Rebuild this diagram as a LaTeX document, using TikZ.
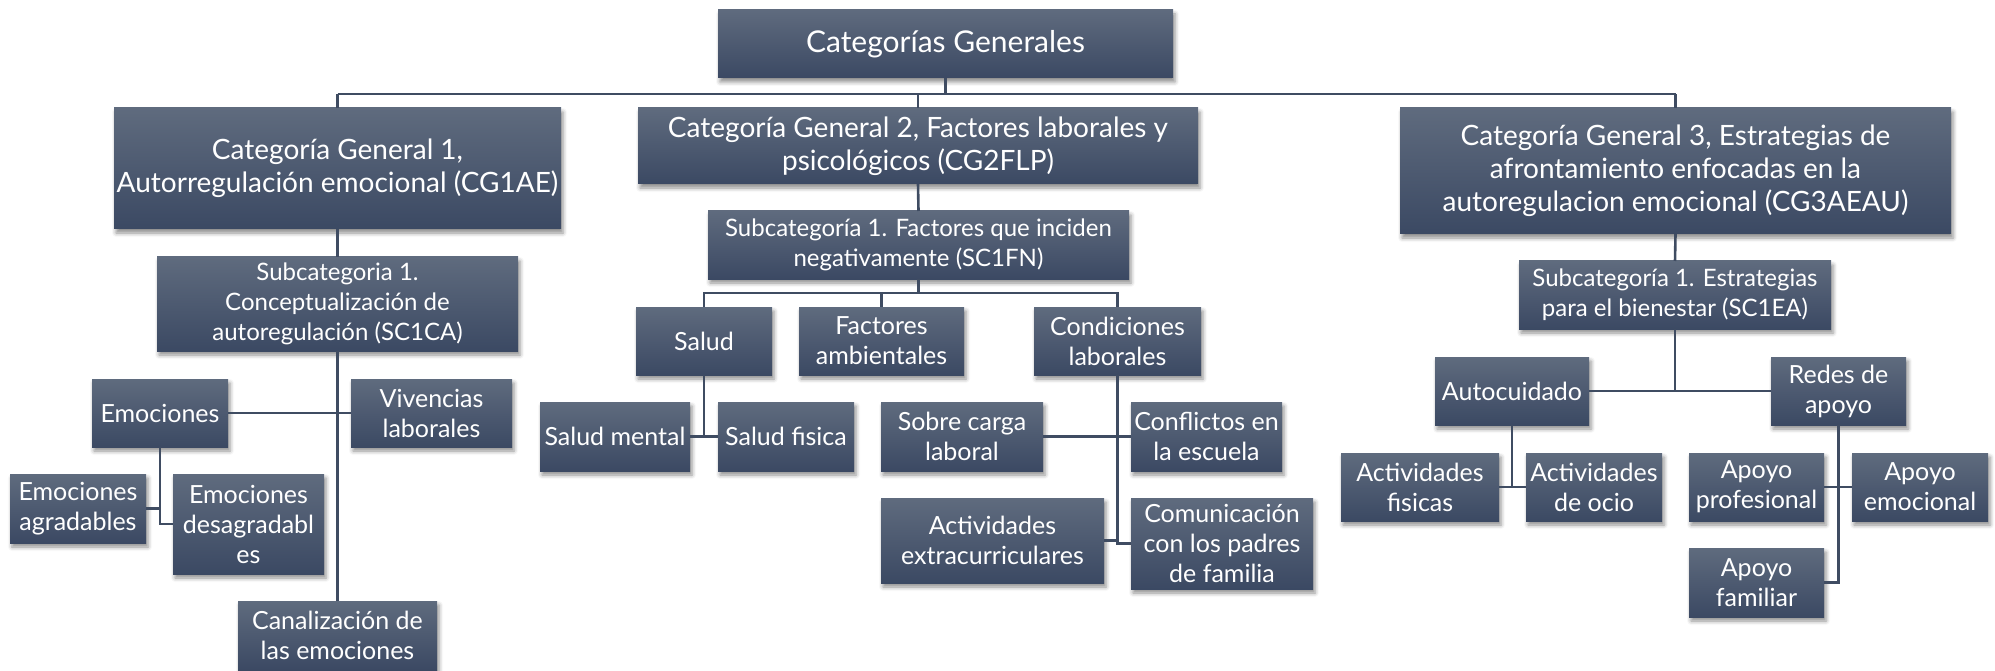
\documentclass[tikz,border=0pt]{standalone}
\usepackage{fontspec}
\setmainfont{Lato}
\usetikzlibrary{shadows.blur}
\definecolor{boxtop}{HTML}{5F6B7E}
\definecolor{boxbot}{HTML}{3B4963}
\definecolor{linec}{HTML}{3F4C62}
\tikzset{
  box/.style={rectangle, inner sep=2pt, outer sep=0pt, align=center, text=white,
    top color=boxtop, bottom color=boxbot, draw=none,
    blur shadow={shadow xshift=2pt, shadow yshift=-4pt, shadow blur radius=4pt, shadow opacity=45},
    font=\fontsize{25}{30}\selectfont},
  bigtxt/.style={font=\fontsize{28}{33}\selectfont},
  roottxt/.style={font=\fontsize{30}{34}\selectfont},
  subtxt/.style={font=\fontsize{24}{30}\selectfont},
  conn/.style={draw=linec, line width=2.6pt}
}
\newcommand\mkbox[7][]{\node[box,#1,minimum width={(#5-#3)*1pt},minimum height={(#6-#4)*1pt}] (#2) at ({(#3+#5)/2},{(#4+#6)/2}) {#7};}
\begin{document}
\begin{tikzpicture}[x=1pt,y=-1pt]
\useasboundingbox (0,0) rectangle (1995,671);
% level 0
\mkbox[roottxt]{root}{718}{10}{1173}{78}{Categorías Generales}
% level 1
\mkbox[bigtxt]{cga}{114}{108}{561}{229}{Categoría General 1,\\Autorregulación emocional (CG1AE)}
\mkbox[bigtxt]{cgb}{638}{108}{1198}{184}{Categoría General 2, Factores laborales y\\psicológicos (CG2FLP)}
\mkbox[bigtxt]{cgc}{1400}{108}{1951}{234}{Categoría General 3, Estrategias de\\afrontamiento enfocadas en la\\autoregulacion emocional (CG3AEAU)}
% branch 1
\mkbox[subtxt]{sca}{157}{257}{518}{351}{Subcategoria 1.\\Conceptualización de\\autoregulación (SC1CA)}
\mkbox{emo}{92}{379}{228}{447}{Emociones}
\mkbox{viv}{351}{379}{512}{447}{Vivencias\\laborales}
\mkbox{emoa}{10}{474}{146}{543}{Emociones\\agradables}
\mkbox{emod}{173}{474}{324}{574}{Emociones\\desagradabl\\es}
\mkbox{canal}{238}{601}{437}{670}{Canalización de\\las emociones}
% branch 2
\mkbox[subtxt]{scb}{708}{211}{1129}{279}{Subcategoría 1. Factores que inciden\\negativamente (SC1FN)}
\mkbox{salud}{636}{307}{772}{375}{Salud}
\mkbox{fact}{799}{307}{964}{375}{Factores\\ambientales}
\mkbox{cond}{1034}{307}{1201}{375}{Condiciones\\laborales}
\mkbox{smen}{540}{402}{690}{471}{Salud mental}
\mkbox{sfis}{718}{402}{854}{471}{Salud fisica}
\mkbox{sobre}{881}{402}{1043}{471}{Sobre carga\\laboral}
\mkbox{confl}{1131}{402}{1282}{471}{Conflictos en\\la escuela}
\mkbox{extra}{881}{498}{1104}{583}{Actividades\\extracurriculares}
\mkbox{comu}{1131}{498}{1313}{589}{Comunicación\\con los padres\\de familia}
% branch 3
\mkbox[subtxt]{scc}{1519}{261}{1831}{329}{Subcategoría 1. Estrategias\\para el bienestar (SC1EA)}
\mkbox{auto}{1435}{357}{1589}{425}{Autocuidado}
\mkbox{redes}{1771}{357}{1906}{425}{Redes de\\apoyo}
\mkbox{afis}{1341}{453}{1499}{521}{Actividades\\fisicas}
\mkbox{aocio}{1526}{453}{1662}{521}{Actividades\\de ocio}
\mkbox{aprof}{1689}{453}{1824}{521}{Apoyo\\profesional}
\mkbox{aemo}{1852}{453}{1988}{521}{Apoyo\\emocional}
\mkbox{afam}{1689}{548}{1824}{617}{Apoyo\\familiar}
% connectors
\coordinate (busL) at (cga.north |- 0,94);
\coordinate (busR) at (cgc.north |- 0,94);
\coordinate (busB) at (scb.south |- 0,293);
\draw[conn] (busL) -- (busR);
\draw[conn] (root.south) -- (root.south |- busL);
\draw[conn] (cga.north) -- (busL);
\draw[conn] (cgb.north) -- (cgb.north |- busL);
\draw[conn] (cgc.north) -- (busR);
% branch 1
\draw[conn] (cga.south) -- (sca.north);
\draw[conn] (sca.south) -- (canal.north);
\draw[conn] (emo.east) -- (viv.west);
\draw[conn] (emo.south) |- (emod.west);
\draw[conn] (emoa.east) -- (emo.south |- emoa.east);
% branch 2
\draw[conn] (cgb.south) -- (scb.north);
\draw[conn] (scb.south) -- (busB);
\draw[conn] (salud.north) |- (busB);
\draw[conn] (cond.north) |- (busB);
\draw[conn] (fact.north) -- (fact.north |- busB);
\draw[conn] (salud.south) -- (salud.south |- smen.east);
\draw[conn] (smen.east) -- (sfis.west);
\draw[conn] (cond.south) |- (comu.west);
\draw[conn] (sobre.east) -- (confl.west);
\draw[conn] (extra.east) -- (cond.south |- extra.east);
% branch 3
\draw[conn] (cgc.south) -- (scc.north);
\draw[conn] (scc.south) -- (scc.south |- auto.east);
\draw[conn] (auto.east) -- (redes.west);
\draw[conn] (auto.south) -- (auto.south |- afis.east);
\draw[conn] (afis.east) -- (aocio.west);
\draw[conn] (redes.south) |- (afam.east);
\draw[conn] (aprof.east) -- (aemo.west);
\end{tikzpicture}
\end{document}
